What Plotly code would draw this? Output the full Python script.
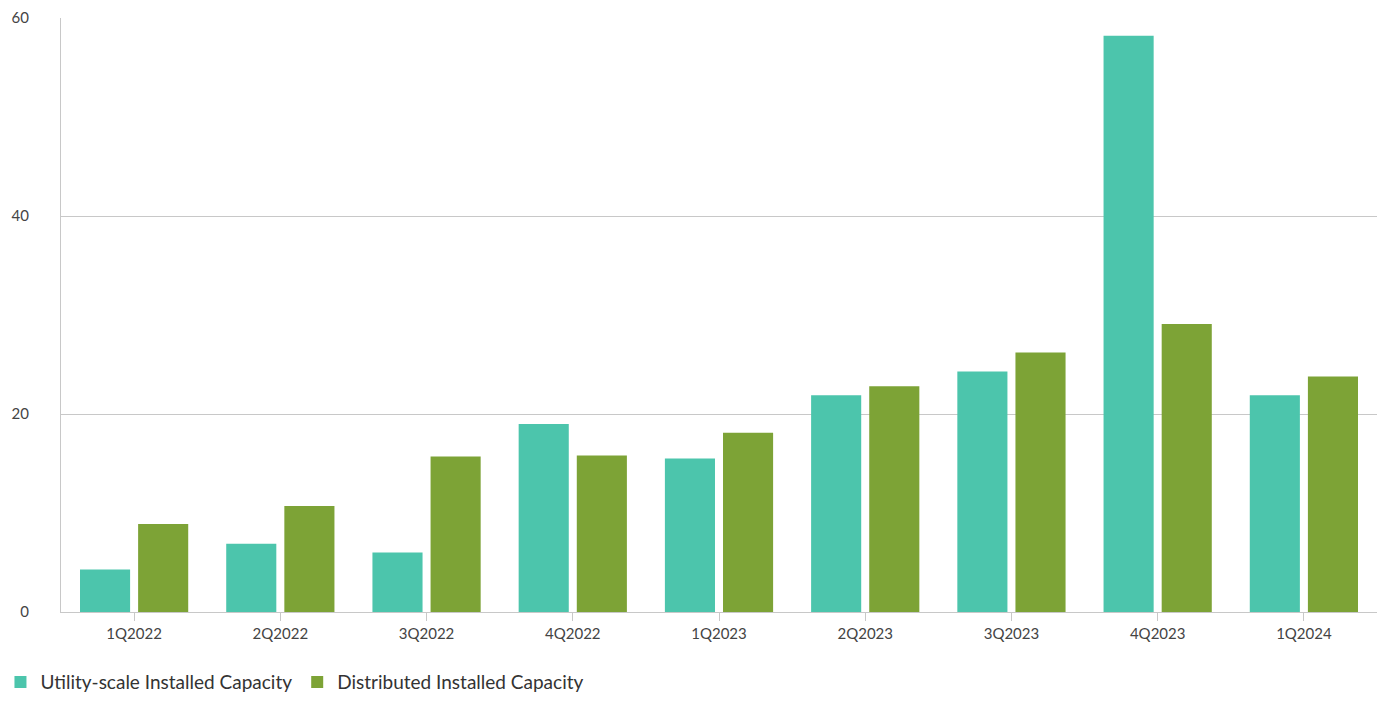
import plotly.graph_objects as go

quarters = ["1Q2022", "2Q2022", "3Q2022", "4Q2022", "1Q2023",
            "2Q2023", "3Q2023", "4Q2023", "1Q2024"]
utility_scale = [4.3, 6.9, 6.0, 19.0, 15.5, 21.9, 24.3, 58.2, 21.9]
distributed = [8.9, 10.7, 15.7, 15.8, 18.1, 22.8, 26.2, 29.1, 23.8]

fig = go.Figure()
fig.add_trace(go.Bar(x=quarters, y=utility_scale, name="Utility-scale Installed Capacity",
                     marker=dict(color="#4cc5ac", line_width=0)))
fig.add_trace(go.Bar(x=quarters, y=distributed, name="Distributed Installed Capacity",
                     marker=dict(color="#7da336", line_width=0)))

# page body has an 8px margin, so the figure is sized to fit inside the window
fig.update_layout(
    width=1371, height=687,
    margin=dict(l=53, r=2, t=10, b=83, autoexpand=False),
    plot_bgcolor="white", paper_bgcolor="white",
    font=dict(family="Lato, Noto Sans, sans-serif", color="#444", size=15),
    barmode="group", bargap=0.205, bargroupgap=0.138,
    showlegend=True,
    legend=dict(orientation="h", x=-0.046, xanchor="left", y=-0.086, yanchor="top",
                font=dict(size=19, color="#333"), traceorder="normal"),
)
fig.update_xaxes(showline=True, linecolor="#c8c8c8", ticks="outside", ticklen=8,
                 tickcolor="#c8c8c8", showgrid=False, automargin=False)
fig.update_yaxes(range=[0, 60], dtick=20, showgrid=True, gridcolor="#c8c8c8",
                 showline=True, linecolor="#c8c8c8", zeroline=False,
                 ticklabelstandoff=28, automargin=False)

fig.write_html("out.html")
